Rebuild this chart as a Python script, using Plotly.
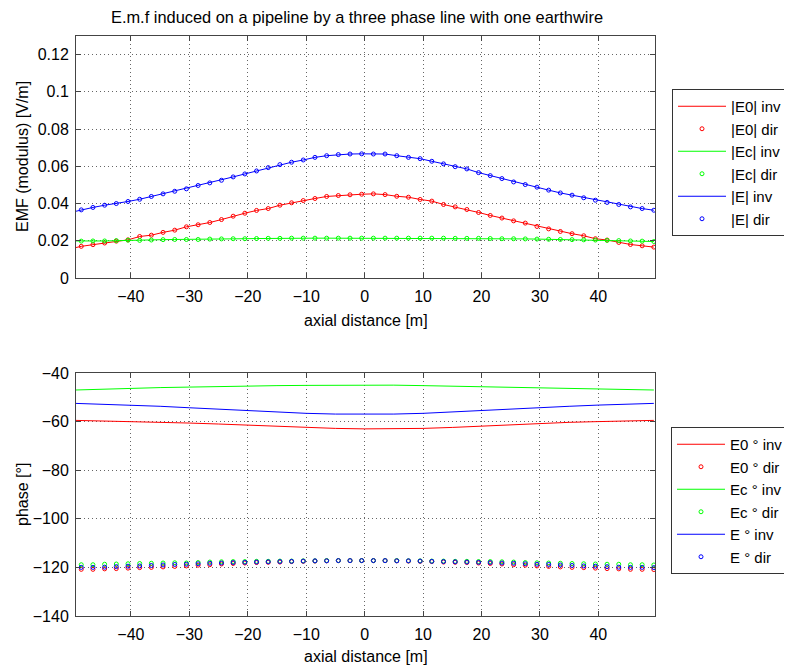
import plotly.graph_objects as go
from plotly.subplots import make_subplots

# ---------------- data ----------------
x_dir = [-48.5 + 2 * i for i in range(50)]          # marker abscissae (read: every 2 m)
x_inv = [-49.5] + x_dir                               # line abscissae (line starts at left edge)

# |E0|, |Ec|, |E| (modulus, V/m) read at the marker positions
E0_mod_dir = [0.0170, 0.0179, 0.0188, 0.0198, 0.0205, 0.0223, 0.0230, 0.0245, 0.0257, 0.0275,
              0.0286, 0.0298, 0.0314, 0.0332, 0.0348, 0.0363, 0.0373, 0.0391, 0.0404, 0.0416,
              0.0427, 0.0438, 0.0443, 0.0447, 0.0450,
              0.0452, 0.0448, 0.0439, 0.0434, 0.0422, 0.0413, 0.0395, 0.0382, 0.0368, 0.0352,
              0.0336, 0.0322, 0.0307, 0.0295, 0.0277, 0.0264, 0.0250, 0.0238, 0.0227, 0.0211,
              0.0204, 0.0191, 0.0180, 0.0173, 0.0166]
Ec_mod_dir = [0.0198, 0.0199, 0.0199, 0.0201, 0.0203, 0.0202, 0.0204, 0.0206, 0.0207, 0.0207,
              0.0207, 0.0209, 0.0210, 0.0211, 0.0211, 0.0212, 0.0213, 0.0213, 0.0214, 0.0214,
              0.0214, 0.0214, 0.0214, 0.0214, 0.0214,
              0.0214, 0.0214, 0.0214, 0.0214, 0.0214, 0.0214, 0.0214, 0.0213, 0.0213, 0.0213,
              0.0212, 0.0211, 0.0211, 0.0210, 0.0209, 0.0208, 0.0207, 0.0206, 0.0205, 0.0204,
              0.0202, 0.0201, 0.0199, 0.0198, 0.0196]
E_mod_dir = [0.0366, 0.0379, 0.0391, 0.0400, 0.0411, 0.0423, 0.0438, 0.0452, 0.0466, 0.0479,
             0.0497, 0.0511, 0.0525, 0.0543, 0.0559, 0.0575, 0.0593, 0.0609, 0.0622, 0.0634,
             0.0648, 0.0657, 0.0663, 0.0666, 0.0667,
             0.0666, 0.0666, 0.0657, 0.0648, 0.0641, 0.0627, 0.0613, 0.0598, 0.0586, 0.0566,
             0.0550, 0.0534, 0.0516, 0.0502, 0.0488, 0.0472, 0.0457, 0.0445, 0.0431, 0.0418,
             0.0406, 0.0395, 0.0382, 0.0373, 0.0364]
E0_mod_inv = [0.0163] + E0_mod_dir
Ec_mod_inv = [0.0199] + Ec_mod_dir
E_mod_inv = [0.0358] + E_mod_dir

# phases (deg)
x_ph_inv = [-49.5, -45, -40, -35, -30, -25, -20, -15, -10, -5, 0,
            5, 10, 15, 20, 25, 30, 35, 40, 45, 49.5]
E0_ph_inv = [-59.5, -59.7, -59.9, -60.2, -60.6, -61.0, -61.5, -62.0, -62.5, -62.8, -63.0,
             -63.0, -62.8, -62.4, -61.8, -61.2, -60.7, -60.3, -60.0, -59.7, -59.5]
Ec_ph_inv = [-47.0, -46.6, -46.3, -46.0, -45.8, -45.5, -45.3, -45.2, -45.1, -45.0, -44.9,
             -45.0, -45.2, -45.4, -45.6, -45.8, -46.1, -46.3, -46.5, -46.8, -47.0]
E_ph_inv = [-52.5, -52.8, -53.2, -53.7, -54.3, -54.9, -55.5, -56.1, -56.6, -56.9, -57.0,
            -56.9, -56.6, -56.0, -55.2, -54.7, -54.3, -53.7, -53.2, -52.8, -52.5]

E0_ph_dir = [-120.8, -120.8, -120.6, -120.5, -120.3, -120.1, -120.0, -119.8, -119.6, -119.4,
             -119.1, -118.9, -118.6, -118.4, -118.2, -118.0, -117.9, -117.8, -117.6, -117.5,
             -117.4, -117.3, -117.2, -117.2, -117.2,
             -117.2, -117.2, -117.3, -117.4, -117.5, -117.6, -117.8, -117.9, -118.0, -118.2,
             -118.4, -118.6, -118.9, -119.1, -119.4, -119.6, -119.8, -120.0, -120.1, -120.3,
             -120.5, -120.6, -120.8, -120.8, -120.9]
Ec_ph_dir = [-118.9, -118.9, -118.7, -118.6, -118.5, -118.4, -118.3, -118.2, -118.1, -118.2,
             -118.0, -117.8, -117.7, -117.6, -117.6, -117.5, -117.5, -117.4, -117.4, -117.3,
             -117.3, -117.2, -117.2, -117.2, -117.2,
             -117.2, -117.2, -117.2, -117.3, -117.3, -117.4, -117.4, -117.5, -117.5, -117.6,
             -117.6, -117.7, -117.8, -118.0, -118.1, -118.2, -118.3, -118.4, -118.5, -118.6,
             -118.7, -118.7, -118.9, -118.9, -119.0]
E_ph_dir = [-120.0, -120.0, -119.9, -119.7, -119.5, -119.4, -119.2, -119.0, -118.8, -118.7,
            -118.5, -118.3, -118.2, -118.0, -117.9, -117.8, -117.7, -117.6, -117.5, -117.4,
            -117.3, -117.3, -117.2, -117.2, -117.2,
            -117.2, -117.2, -117.3, -117.3, -117.4, -117.5, -117.6, -117.7, -117.8, -117.9,
            -118.0, -118.2, -118.3, -118.5, -118.7, -118.8, -119.0, -119.2, -119.4, -119.5,
            -119.7, -119.9, -120.0, -120.0, -120.1]

x_ticks = [-40, -30, -20, -10, 0, 10, 20, 30, 40]
y1_ticks = [0, 0.02, 0.04, 0.06, 0.08, 0.1, 0.12]
y1_labels = ["0", "0.02", "0.04", "0.06", "0.08", "0.1", "0.12"]
y2_ticks = [-140, -120, -100, -80, -60, -40]

RED, GREEN, BLUE = "#ff0000", "#00ff00", "#0000ff"
FONT = "Liberation Sans, Arial, sans-serif"
FS = 16

fig = make_subplots(rows=2, cols=1, vertical_spacing=0.0)

def line(x, y, color, name, row, legend):
    fig.add_trace(go.Scatter(x=x, y=y, mode="lines", name=name,
                             line=dict(color=color, width=1), legend=legend), row=row, col=1)

def dots(x, y, color, name, row, legend):
    fig.add_trace(go.Scatter(x=x, y=y, mode="markers", name=name,
                             marker=dict(symbol="circle-open", size=4, color=color,
                                         line=dict(width=1, color=color)),
                             legend=legend), row=row, col=1)

line(x_inv, E0_mod_inv, RED, "|E0| inv", 1, "legend")
dots(x_dir, E0_mod_dir, RED, "|E0| dir", 1, "legend")
line(x_inv, Ec_mod_inv, GREEN, "|Ec| inv", 1, "legend")
dots(x_dir, Ec_mod_dir, GREEN, "|Ec| dir", 1, "legend")
line(x_inv, E_mod_inv, BLUE, "|E| inv", 1, "legend")
dots(x_dir, E_mod_dir, BLUE, "|E| dir", 1, "legend")

line(x_ph_inv, E0_ph_inv, RED, "E0 ° inv", 2, "legend2")
dots(x_dir, E0_ph_dir, RED, "E0 ° dir", 2, "legend2")
line(x_ph_inv, Ec_ph_inv, GREEN, "Ec ° inv", 2, "legend2")
dots(x_dir, Ec_ph_dir, GREEN, "Ec ° dir", 2, "legend2")
line(x_ph_inv, E_ph_inv, BLUE, "E ° inv", 2, "legend2")
dots(x_dir, E_ph_dir, BLUE, "E ° dir", 2, "legend2")

axis_common = dict(showline=True, linecolor="#444", linewidth=1, mirror="ticks",
                   ticks="inside", ticklen=5, tickcolor="#444",
                   showgrid=True, gridcolor="#666", griddash="1px,3px", gridwidth=1,
                   zeroline=False, tickfont=dict(family=FONT, size=FS, color="#000"))

fig.update_xaxes(**axis_common, range=[-49.4, 49.7], tickvals=x_ticks, ticklabelstandoff=4)
fig.update_yaxes(**axis_common, ticklabelstandoff=3)
fig.update_yaxes(range=[0, 0.13], tickvals=y1_ticks, ticktext=y1_labels, row=1, col=1)
fig.update_yaxes(range=[-140, -40], tickvals=y2_ticks, row=2, col=1)

# page places the figure 8 px from the top-left corner (body margin)
OFF = 8
H, W = 667 - OFF, 792 - OFF
L, T = 76 - OFF, 36 - OFF
R = W - (655 - OFF)
B = H - (616 - OFF)
ph = H - T - B
pw = W - L - R
def py(ypix):
    return (H - B - (ypix - OFF)) / ph
def px(xpix):
    return (xpix - OFF - L) / pw

fig.update_layout(
    yaxis=dict(domain=[py(278), 1.0]),
    yaxis2=dict(domain=[0.0, py(373)]),
)

leg_common = dict(bordercolor="#333", borderwidth=1, bgcolor="white",
                  font=dict(family=FONT, size=15, color="#000"),
                  xanchor="left", yanchor="top", itemwidth=48, tracegroupgap=0)
fig.update_layout(
    width=W, height=H,
    margin=dict(l=L, r=R, t=T, b=B, autoexpand=False),
    paper_bgcolor="white", plot_bgcolor="white",
    font=dict(family=FONT, size=FS, color="#000"),
    title=dict(text="E.m.f induced on a pipeline by a three phase line with one earthwire",
               x=px(357), xref="paper", xanchor="center",
               y=1 - (17 - OFF) / H, yref="container", yanchor="middle",
               font=dict(family=FONT, size=16.4, color="#000")),
    legend=dict(**leg_common, x=px(672), y=py(89)),
    legend2=dict(**leg_common, x=px(671), y=py(427)),
    showlegend=True,
    annotations=[
        dict(text="axial distance [m]", xref="paper", yref="paper", x=0.5, y=py(320),
             showarrow=False, xanchor="center", yanchor="middle", font=dict(size=FS)),
        dict(text="axial distance [m]", xref="paper", yref="paper", x=0.5, y=py(656),
             showarrow=False, xanchor="center", yanchor="middle", font=dict(size=FS)),
        dict(text="EMF (modulus) [V/m]", xref="paper", yref="paper", x=px(22), y=py(157),
             showarrow=False, xanchor="center", yanchor="middle", textangle=-90,
             font=dict(size=FS)),
        dict(text="phase [°]", xref="paper", yref="paper", x=px(22), y=py(495),
             showarrow=False, xanchor="center", yanchor="middle", textangle=-90,
             font=dict(size=FS)),
    ],
)

fig.write_html("out.html")
